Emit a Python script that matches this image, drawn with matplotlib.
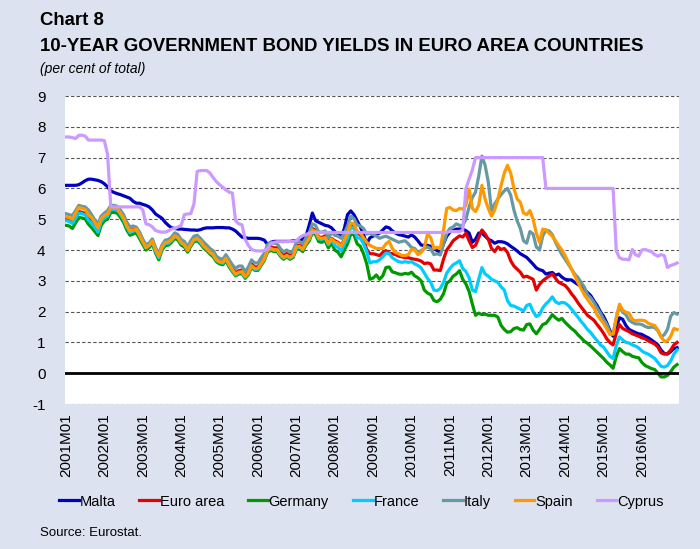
import numpy as np
import matplotlib
matplotlib.use("Agg")
from matplotlib import pyplot as plt

plt.rcParams['font.family'] = ['Liberation Sans', 'DejaVu Sans']
plt.rcParams['axes.unicode_minus'] = False

# monthly values, 2001M01 .. 2016M12 (one row per year)
years = list(range(2001, 2017))
tick_labels = [str(y) + "M01" for y in years]

malta = [
  6.10, 6.10, 6.10, 6.10, 6.12, 6.18, 6.25, 6.30, 6.30, 6.28, 6.26, 6.22,
  6.15, 6.05, 5.92, 5.87, 5.83, 5.80, 5.76, 5.72, 5.68, 5.58, 5.52, 5.52,
  5.48, 5.45, 5.40, 5.30, 5.17, 5.10, 5.03, 4.90, 4.80, 4.72, 4.70, 4.68,
  4.68, 4.67, 4.66, 4.65, 4.65, 4.64, 4.66, 4.70, 4.72, 4.72, 4.72, 4.73,
  4.73, 4.73, 4.72, 4.72, 4.68, 4.62, 4.52, 4.42, 4.40, 4.38, 4.38, 4.38,
  4.38, 4.36, 4.32, 4.18, 4.25, 4.28, 4.28, 4.28, 4.28, 4.28, 4.28, 4.30,
  4.30, 4.32, 4.35, 4.45, 4.80, 5.20, 4.95, 4.90, 4.85, 4.80, 4.78, 4.72,
  4.60, 4.50, 4.42, 4.70, 5.15, 5.27, 5.15, 4.95, 4.75, 4.50, 4.20, 4.40,
  4.45, 4.50, 4.55, 4.65, 4.75, 4.72, 4.62, 4.55, 4.50, 4.48, 4.45, 4.42,
  4.49, 4.42, 4.30, 4.16, 4.15, 4.15, 4.12, 4.05, 3.98, 3.92, 4.20, 4.45,
  4.58, 4.63, 4.68, 4.68, 4.68, 4.63, 4.55, 4.25, 4.35, 4.55, 4.55, 4.45,
  4.35, 4.30, 4.22, 4.27, 4.27, 4.25, 4.20, 4.12, 4.05, 3.97, 3.88, 3.82,
  3.76, 3.65, 3.54, 3.42, 3.36, 3.33, 3.22, 3.25, 3.27, 3.18, 3.22, 3.12,
  3.05, 3.03, 3.03, 2.95, 2.88, 2.82, 2.72, 2.62, 2.52, 2.35, 2.20, 2.00,
  1.85, 1.64, 1.38, 1.20, 1.50, 1.80, 1.75, 1.55, 1.42, 1.37, 1.32, 1.28,
  1.26, 1.20, 1.15, 1.08, 1.00, 0.92, 0.75, 0.64, 0.62, 0.70, 0.80, 0.83,
]

euro_area = [
  5.00, 4.98, 4.90, 5.07, 5.25, 5.22, 5.19, 5.02, 4.92, 4.78, 4.63, 4.97,
  5.10, 5.15, 5.37, 5.36, 5.35, 5.21, 5.05, 4.80, 4.63, 4.67, 4.72, 4.52,
  4.31, 4.12, 4.20, 4.32, 4.02, 3.82, 4.12, 4.26, 4.28, 4.37, 4.50, 4.45,
  4.28, 4.22, 4.05, 4.23, 4.38, 4.42, 4.32, 4.19, 4.10, 3.99, 3.91, 3.74,
  3.67, 3.63, 3.77, 3.57, 3.41, 3.26, 3.33, 3.35, 3.19, 3.32, 3.55, 3.45,
  3.45, 3.61, 3.78, 4.05, 4.11, 4.07, 4.07, 3.92, 3.82, 3.89, 3.82, 3.88,
  4.14, 4.16, 4.08, 4.28, 4.42, 4.70, 4.64, 4.42, 4.41, 4.46, 4.24, 4.38,
  4.30, 4.25, 4.15, 4.35, 4.55, 4.85, 4.80, 4.55, 4.50, 4.30, 4.02, 3.88,
  3.88, 3.85, 3.82, 3.92, 3.98, 3.90, 3.88, 3.85, 3.80, 3.78, 3.75, 3.75,
  3.72, 3.70, 3.68, 3.64, 3.56, 3.58, 3.55, 3.35, 3.35, 3.33, 3.70, 4.00,
  4.14, 4.30, 4.38, 4.46, 4.42, 4.55, 4.30, 4.08, 4.15, 4.40, 4.65, 4.52,
  4.35, 4.05, 3.95, 4.10, 4.02, 4.05, 3.92, 3.65, 3.48, 3.38, 3.28, 3.12,
  3.15, 3.10, 3.05, 2.70, 2.88, 3.00, 3.08, 3.15, 3.22, 3.08, 2.95, 2.90,
  2.85, 2.73, 2.58, 2.45, 2.29, 2.15, 2.02, 1.88, 1.80, 1.72, 1.58, 1.45,
  1.30, 1.12, 1.00, 0.92, 1.30, 1.58, 1.45, 1.40, 1.35, 1.28, 1.24, 1.20,
  1.15, 1.12, 1.05, 1.00, 0.95, 0.85, 0.66, 0.62, 0.64, 0.75, 0.92, 1.00,
]

germany = [
  4.80, 4.78, 4.70, 4.88, 5.06, 5.04, 5.01, 4.84, 4.73, 4.60, 4.47, 4.80,
  4.95, 5.00, 5.22, 5.22, 5.20, 5.06, 4.90, 4.65, 4.48, 4.52, 4.56, 4.37,
  4.18, 4.00, 4.08, 4.20, 3.90, 3.68, 4.00, 4.14, 4.16, 4.25, 4.38, 4.32,
  4.16, 4.10, 3.93, 4.12, 4.27, 4.30, 4.20, 4.07, 3.98, 3.87, 3.78, 3.62,
  3.55, 3.52, 3.65, 3.45, 3.30, 3.16, 3.22, 3.24, 3.08, 3.20, 3.43, 3.34,
  3.34, 3.50, 3.66, 3.93, 3.99, 3.95, 3.95, 3.80, 3.70, 3.78, 3.70, 3.76,
  4.02, 4.04, 3.95, 4.16, 4.29, 4.56, 4.50, 4.27, 4.25, 4.31, 4.07, 4.23,
  4.00, 3.93, 3.78, 4.00, 4.20, 4.52, 4.50, 4.20, 4.12, 3.88, 3.55, 3.05,
  3.09, 3.19, 3.05, 3.16, 3.43, 3.45, 3.29, 3.26, 3.22, 3.21, 3.24, 3.22,
  3.28, 3.16, 3.10, 3.00, 2.70, 2.60, 2.55, 2.36, 2.32, 2.40, 2.58, 2.92,
  3.00, 3.15, 3.22, 3.33, 3.05, 2.90, 2.65, 2.25, 1.88, 1.95, 1.90, 1.92,
  1.88, 1.88, 1.88, 1.82, 1.55, 1.42, 1.33, 1.35, 1.45, 1.48, 1.42, 1.40,
  1.58, 1.60, 1.40, 1.28, 1.42, 1.58, 1.62, 1.75, 1.90, 1.80, 1.72, 1.78,
  1.65, 1.55, 1.45, 1.37, 1.25, 1.15, 1.04, 0.97, 0.88, 0.78, 0.68, 0.58,
  0.48, 0.36, 0.27, 0.16, 0.55, 0.80, 0.70, 0.62, 0.62, 0.55, 0.52, 0.50,
  0.35, 0.25, 0.20, 0.15, 0.12, 0.00, -0.12, -0.12, -0.07, 0.05, 0.20, 0.28,
]

france = [
  4.95, 4.93, 4.86, 5.03, 5.20, 5.18, 5.14, 4.97, 4.87, 4.74, 4.58, 4.92,
  5.05, 5.10, 5.33, 5.32, 5.30, 5.16, 4.99, 4.74, 4.56, 4.61, 4.65, 4.45,
  4.26, 4.07, 4.14, 4.26, 3.96, 3.75, 4.06, 4.21, 4.22, 4.30, 4.44, 4.39,
  4.22, 4.16, 3.98, 4.17, 4.32, 4.36, 4.25, 4.12, 4.03, 3.92, 3.84, 3.67,
  3.60, 3.57, 3.70, 3.50, 3.34, 3.19, 3.26, 3.28, 3.12, 3.24, 3.48, 3.37,
  3.38, 3.54, 3.70, 3.98, 4.04, 3.99, 4.00, 3.84, 3.74, 3.81, 3.74, 3.80,
  4.07, 4.09, 4.01, 4.21, 4.35, 4.64, 4.59, 4.36, 4.35, 4.39, 4.17, 4.33,
  4.15, 4.08, 3.97, 4.19, 4.38, 4.74, 4.70, 4.40, 4.38, 4.20, 3.95, 3.58,
  3.62, 3.62, 3.68, 3.78, 3.90, 3.88, 3.75, 3.68, 3.62, 3.60, 3.62, 3.60,
  3.62, 3.55, 3.50, 3.42, 3.25, 3.08, 2.95, 2.70, 2.68, 2.75, 2.95, 3.25,
  3.40, 3.52, 3.58, 3.65, 3.40, 3.30, 3.10, 2.70, 2.65, 3.05, 3.43, 3.22,
  3.15, 3.05, 3.00, 2.95, 2.80, 2.70, 2.35, 2.20, 2.18, 2.13, 2.08, 2.02,
  2.20, 2.24, 2.00, 1.84, 1.90, 2.12, 2.25, 2.35, 2.48, 2.32, 2.26, 2.30,
  2.28, 2.20, 2.08, 1.95, 1.82, 1.68, 1.56, 1.42, 1.32, 1.18, 1.06, 0.92,
  0.85, 0.70, 0.55, 0.48, 0.90, 1.18, 1.08, 1.00, 0.98, 0.92, 0.88, 0.82,
  0.72, 0.66, 0.62, 0.55, 0.48, 0.35, 0.22, 0.20, 0.25, 0.40, 0.62, 0.76,
]

italy = [
  5.18, 5.15, 5.12, 5.28, 5.45, 5.42, 5.40, 5.30, 5.15, 4.98, 4.85, 5.10,
  5.20, 5.28, 5.45, 5.45, 5.42, 5.30, 5.15, 4.90, 4.75, 4.78, 4.74, 4.58,
  4.35, 4.17, 4.23, 4.36, 4.08, 3.88, 4.16, 4.32, 4.34, 4.42, 4.56, 4.50,
  4.34, 4.28, 4.11, 4.30, 4.45, 4.48, 4.38, 4.26, 4.16, 4.05, 3.98, 3.80,
  3.73, 3.70, 3.85, 3.68, 3.52, 3.40, 3.48, 3.48, 3.30, 3.45, 3.68, 3.58,
  3.58, 3.75, 3.90, 4.18, 4.25, 4.22, 4.20, 4.05, 3.94, 4.00, 3.92, 3.98,
  4.25, 4.28, 4.20, 4.40, 4.55, 4.85, 4.80, 4.58, 4.58, 4.62, 4.40, 4.56,
  4.48, 4.45, 4.38, 4.55, 4.78, 5.10, 5.02, 4.82, 4.78, 4.70, 4.52, 4.55,
  4.50, 4.45, 4.38, 4.42, 4.45, 4.40, 4.35, 4.30, 4.25, 4.28, 4.30, 4.20,
  4.08, 4.05, 3.92, 3.98, 4.05, 4.10, 4.04, 3.85, 3.88, 3.84, 4.20, 4.55,
  4.70, 4.75, 4.85, 4.80, 4.80, 5.00, 5.40, 5.70, 5.88, 6.40, 7.05, 6.75,
  6.20, 5.28, 5.50, 5.66, 5.80, 5.92, 6.00, 5.78, 5.30, 4.95, 4.70, 4.30,
  4.22, 4.60, 4.52, 4.10, 4.00, 4.45, 4.65, 4.62, 4.50, 4.25, 4.05, 3.85,
  3.70, 3.54, 3.38, 3.22, 3.11, 2.95, 2.80, 2.55, 2.45, 2.30, 2.12, 1.95,
  1.75, 1.59, 1.32, 1.26, 1.80, 2.18, 1.98, 1.90, 1.72, 1.65, 1.60, 1.60,
  1.58, 1.52, 1.48, 1.50, 1.48, 1.38, 1.18, 1.25, 1.42, 1.85, 1.97, 1.92,
]

spain = [
  5.08, 5.05, 5.00, 5.20, 5.38, 5.35, 5.32, 5.15, 5.05, 4.90, 4.72, 5.02,
  5.12, 5.18, 5.38, 5.36, 5.35, 5.20, 5.04, 4.78, 4.62, 4.65, 4.68, 4.48,
  4.27, 4.08, 4.16, 4.30, 4.00, 3.80, 4.10, 4.24, 4.26, 4.34, 4.46, 4.40,
  4.24, 4.18, 4.00, 4.18, 4.34, 4.38, 4.28, 4.14, 4.04, 3.93, 3.85, 3.68,
  3.62, 3.60, 3.73, 3.52, 3.36, 3.22, 3.28, 3.30, 3.14, 3.26, 3.49, 3.40,
  3.40, 3.56, 3.72, 3.99, 4.05, 4.01, 4.01, 3.86, 3.76, 3.82, 3.76, 3.82,
  4.10, 4.12, 4.02, 4.22, 4.38, 4.65, 4.60, 4.40, 4.38, 4.40, 4.22, 4.36,
  4.26, 4.22, 4.12, 4.33, 4.55, 4.88, 4.85, 4.60, 4.55, 4.40, 4.25, 4.15,
  4.10, 4.05, 4.05, 4.05, 4.20, 4.28, 4.05, 3.92, 3.88, 3.82, 3.82, 3.85,
  4.02, 4.00, 3.85, 3.92, 4.08, 4.52, 4.40, 4.05, 4.09, 4.05, 4.65, 5.35,
  5.38, 5.30, 5.28, 5.35, 5.33, 5.45, 5.98, 5.35, 5.25, 5.45, 6.10, 5.65,
  5.35, 5.10, 5.30, 5.66, 6.10, 6.50, 6.75, 6.50, 6.00, 5.66, 5.55, 5.20,
  5.15, 5.28, 5.00, 4.55, 4.25, 4.68, 4.65, 4.55, 4.45, 4.30, 4.14, 4.00,
  3.82, 3.60, 3.38, 3.16, 2.95, 2.75, 2.55, 2.40, 2.25, 2.12, 1.90, 1.75,
  1.62, 1.45, 1.26, 1.28, 1.80, 2.24, 2.05, 1.98, 1.95, 1.75, 1.70, 1.72,
  1.72, 1.70, 1.62, 1.58, 1.55, 1.40, 1.18, 1.04, 1.05, 1.20, 1.45, 1.42,
]

cyprus = [
  7.67, 7.67, 7.65, 7.62, 7.72, 7.73, 7.70, 7.57, 7.57, 7.57, 7.57, 7.57,
  7.55, 7.10, 5.40, 5.40, 5.40, 5.40, 5.40, 5.40, 5.40, 5.40, 5.40, 5.40,
  5.30, 4.85, 4.82, 4.75, 4.63, 4.60, 4.58, 4.58, 4.62, 4.68, 4.70, 4.75,
  4.80, 5.15, 5.17, 5.18, 5.50, 6.55, 6.58, 6.58, 6.58, 6.50, 6.35, 6.22,
  6.12, 6.04, 5.95, 5.88, 5.85, 4.95, 4.85, 4.82, 4.35, 4.15, 4.02, 3.98,
  3.97, 3.97, 3.98, 4.05, 4.20, 4.25, 4.27, 4.27, 4.27, 4.27, 4.28, 4.28,
  4.30, 4.40, 4.47, 4.50, 4.55, 4.57, 4.57, 4.57, 4.57, 4.57, 4.57, 4.57,
  4.57, 4.57, 4.57, 4.57, 4.57, 4.57, 4.57, 4.57, 4.57, 4.57, 4.57, 4.57,
  4.57, 4.57, 4.57, 4.57, 4.57, 4.57, 4.57, 4.57, 4.57, 4.57, 4.57, 4.57,
  4.57, 4.57, 4.57, 4.57, 4.57, 4.57, 4.57, 4.57, 4.57, 4.57, 4.57, 4.57,
  4.60, 4.60, 4.60, 4.60, 4.65, 6.00, 6.30, 6.60, 7.00, 7.00, 7.00, 7.00,
  7.00, 7.00, 7.00, 7.00, 7.00, 7.00, 7.00, 7.00, 7.00, 7.00, 7.00, 7.00,
  7.00, 7.00, 7.00, 7.00, 7.00, 7.00, 6.00, 6.00, 6.00, 6.00, 6.00, 6.00,
  6.00, 6.00, 6.00, 6.00, 6.00, 6.00, 6.00, 6.00, 6.00, 6.00, 6.00, 6.00,
  6.00, 6.00, 6.00, 6.00, 3.97, 3.75, 3.70, 3.70, 3.68, 4.02, 3.85, 3.80,
  4.00, 4.02, 3.98, 3.95, 3.85, 3.80, 3.85, 3.82, 3.43, 3.50, 3.53, 3.58,
]

series = [
  ("Malta", malta, "#0000c0"),
  ("Euro area", euro_area, "#e60000"),
  ("Germany", germany, "#009a00"),
  ("France", france, "#00ccff"),
  ("Italy", italy, "#6699a3"),
  ("Spain", spain, "#ff9900"),
  ("Cyprus", cyprus, "#cc99ff"),
]

months = np.arange(len(malta))
bg = "#dce2ef"

fig = plt.figure(figsize=(7, 5.49), dpi=100, facecolor=bg)
ax = fig.add_axes([0.0929, 0.2641, 0.8771, 0.561])
ax.set_facecolor("white")
for s in ax.spines.values():
  s.set_visible(False)

for name, vals, col in series:
  ax.plot(months, vals, color=col, lw=2.3, label=name, solid_joinstyle="round")

ax.set_ylim(-1, 9)
ax.set_xlim(-0.3, len(malta) - 0.4)
ax.set_yticks(range(-1, 10))
ax.yaxis.grid(True, linestyle=(0, (3, 2)), color="#555555", lw=0.8)
ax.set_axisbelow(True)
ax.axhline(0, color="black", lw=2)

ax.set_xticks(months[::12])
ax.set_xticklabels(tick_labels, rotation=90)
ax.tick_params(axis="both", length=0, labelsize=11)
ax.tick_params(axis="y", pad=14)
ax.tick_params(axis="x", pad=7)

fig.text(0.057, 0.963, "Chart 8", fontsize=13.4, weight="bold", va="center")
fig.text(0.057, 0.916, "10-YEAR GOVERNMENT BOND YIELDS IN EURO AREA COUNTRIES",
  fontsize=13.4, weight="bold", va="center")
fig.text(0.057, 0.874, "(per cent of total)", fontsize=10, style="italic", va="center")
fig.text(0.057, 0.029, "Source: Eurostat.", fontsize=9.5, va="center")

fig.legend(loc="center", bbox_to_anchor=(0.516, 0.0865), ncol=7, frameon=False,
  fontsize=10.5, handlelength=1.35, handletextpad=0.05, columnspacing=1.65)

fig.savefig("out.png", dpi=100, facecolor=bg)
